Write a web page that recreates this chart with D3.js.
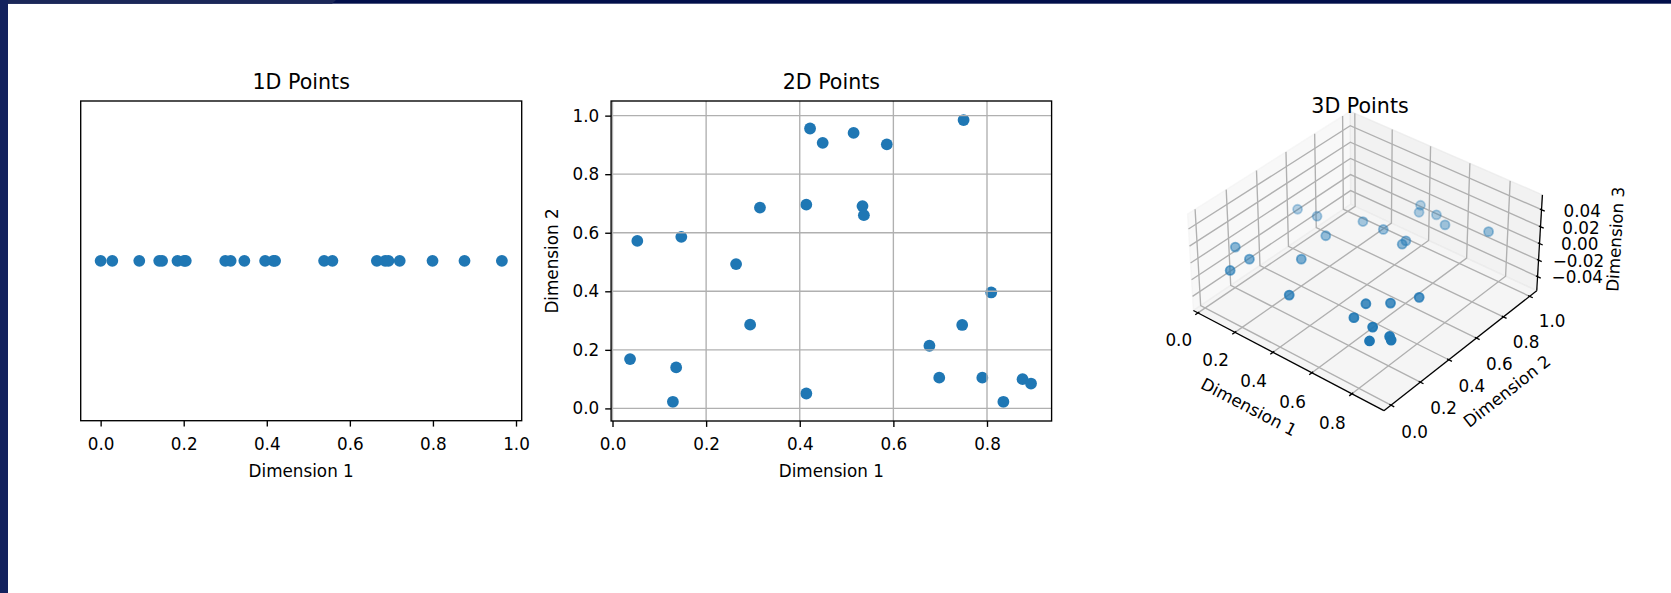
<!DOCTYPE html>
<html>
<head>
<meta charset="utf-8">
<script src="https://cdn.jsdelivr.net/npm/d3@7"></script>
<style>
  html, body { margin: 0; padding: 0; background: #fff; }
  body { width: 1671px; height: 593px; overflow: hidden; }
  svg text { font-family: 'DejaVu Sans', sans-serif; fill: #000; }
</style>
</head>
<body>
<svg class="canvas" width="1671" height="593"></svg>
<script>
'use strict'

// ---- data ----
const points1d = [0.0, 0.028, 0.093, 0.141, 0.148, 0.185, 0.201, 0.205, 0.3, 0.313, 0.346,
  0.396, 0.416, 0.42, 0.538, 0.558, 0.665, 0.685, 0.693, 0.72, 0.799, 0.876, 0.966]

const dim1 = [0.053, 0.0375, 0.136, 0.129, 0.147, 0.264, 0.294, 0.315, 0.414, 0.414, 0.422,
  0.449, 0.515, 0.534, 0.537, 0.586, 0.75, 0.809, 0.747, 0.677, 0.698, 0.79, 0.835, 0.876, 0.894]
const dim2 = [0.572, 0.1685, 0.14, 0.0226, 0.586, 0.493, 0.286, 0.686, 0.696, 0.051, 0.956,
  0.907, 0.941, 0.691, 0.66, 0.902, 0.985, 0.396, 0.285, 0.214, 0.105, 0.105, 0.0226, 0.1, 0.085]
const dim3 = dim1.map(() => 0)

const ticks1d = [0, 0.2, 0.4, 0.6, 0.8, 1.0]
const ticks2dX = [0, 0.2, 0.4, 0.6, 0.8]
const ticks2dY = [0, 0.2, 0.4, 0.6, 0.8, 1.0]
const ticks3dX = [0, 0.2, 0.4, 0.6, 0.8]
const ticks3dY = [0, 0.2, 0.4, 0.6, 0.8, 1.0]
const ticks3dZ = [-0.04, -0.02, 0, 0.02, 0.04]

const titles = ['1D Points', '2D Points', '3D Points']
const labels = ['Dimension 1', 'Dimension 2', 'Dimension 3']

// ---- layout / style ----
const W = 1671, H = 593
const BLUE = '#1f77b4'
const FS = 16.8, TITLE_FS = 20.6
const LW = 1.36, TICK = 5.9

const svg = d3.select('.canvas')

// window frame around the figure
svg.append('rect').attr('width', W).attr('height', 3.7).attr('fill', '#020f4a')
svg.append('path').attr('d', 'M0,0H336L332,3.7H0Z').attr('fill', '#1b2758')
svg.append('rect').attr('width', 8).attr('height', H).attr('fill', '#13225e')

const fmt1 = d3.format('.1f'), fmt2 = d3.format('.2f')

// ---- 2D style panels ----
function panel({ left, right, top, bottom, xDomain, yDomain, xTicks, yTicks, grid, title, xLabel, yLabel, xs, ys }) {
  const x = d3.scaleLinear().domain(xDomain).range([left, right])
  const y = d3.scaleLinear().domain(yDomain).range([bottom, top])
  const g = svg.append('g')

  // points
  g.append('g')
    .selectAll('circle')
    .data(xs)
    .join('circle')
    .attr('cx', d => x(d))
    .attr('cy', (d, i) => y(ys[i]))
    .attr('r', 5.9)
    .attr('fill', BLUE)

  // grid (matplotlib draws it above the markers)
  if (grid) {
    g.append('g').selectAll('line.gx').data(xTicks).join('line')
      .attr('x1', d => x(d)).attr('x2', d => x(d)).attr('y1', top).attr('y2', bottom)
      .attr('stroke', '#b0b0b0').attr('stroke-width', LW)
    g.append('g').selectAll('line.gy').data(yTicks).join('line')
      .attr('y1', d => y(d)).attr('y2', d => y(d)).attr('x1', left).attr('x2', right)
      .attr('stroke', '#b0b0b0').attr('stroke-width', LW)
  }

  // axes
  const xAxis = g.append('g')
    .attr('transform', `translate(0, ${bottom})`)
    .call(d3.axisBottom(x).tickValues(xTicks).tickFormat(fmt1).tickSizeInner(TICK).tickSizeOuter(0).tickPadding(11.2))
  const axes = [xAxis]
  if (yTicks.length) {
    axes.push(g.append('g')
      .attr('transform', `translate(${left}, 0)`)
      .call(d3.axisLeft(y).tickValues(yTicks).tickFormat(fmt1).tickSizeInner(TICK).tickSizeOuter(0).tickPadding(5.9)))
  }
  axes.forEach(a => {
    a.select('.domain').remove()
    a.selectAll('line').attr('stroke', '#000').attr('stroke-width', LW)
    a.selectAll('text').attr('font-size', FS).attr('font-family', null).attr('fill', '#000')
  })

  // spines
  g.append('rect')
    .attr('x', left).attr('y', top).attr('width', right - left).attr('height', bottom - top)
    .attr('fill', 'none').attr('stroke', '#000').attr('stroke-width', LW)

  g.append('text').attr('x', (left + right) / 2).attr('y', top - 12.5)
    .attr('text-anchor', 'middle').attr('font-size', TITLE_FS).text(title)
  g.append('text').attr('x', (left + right) / 2).attr('y', bottom + 56.3)
    .attr('text-anchor', 'middle').attr('font-size', FS).text(xLabel)
  if (yLabel) {
    g.append('text')
      .attr('transform', `translate(${left - 53}, ${(top + bottom) / 2}) rotate(-90)`)
      .attr('text-anchor', 'middle').attr('font-size', FS).text(yLabel)
  }
}

panel({
  left: 80.7, right: 521.7, top: 101, bottom: 420.7,
  xDomain: [-0.048, 1.0137], yDomain: [-0.055, 0.055],
  xTicks: ticks1d, yTicks: [], grid: false,
  title: titles[0], xLabel: labels[0],
  xs: points1d, ys: points1d.map(() => 0)
})

panel({
  left: 611.1, right: 1051.6, top: 101, bottom: 421,
  xDomain: [-0.003, 0.938], yDomain: [-0.043, 1.05],
  xTicks: ticks2dX, yTicks: ticks2dY, grid: true,
  title: titles[1], xLabel: labels[0], yLabel: labels[1],
  xs: dim1, ys: dim2
})

// ---- 3D panel (matplotlib-like perspective projection) ----
const margin = ([lo, hi]) => {
  if (hi - lo < 1e-12) { lo -= 0.05; hi += 0.05 }
  const m = (hi - lo) * 0.05
  return [lo - m, hi + m]
}
const lims = [margin(d3.extent(dim1)), margin(d3.extent(dim2)), margin(d3.extent(dim3))]
const deltas = lims.map(([a, b]) => (b - a) / 12)
const mins = lims.map(([a], i) => a - deltas[i] / 4)
const maxs = lims.map(([, b], i) => b + deltas[i] / 4)
const centers = lims.map(([a, b]) => (a + b) / 2)
const DIST = 10

// screen calibration of the box corners (0 = min side, 1 = max side)
const calib3d = [
  { corner: [0, 0, 0], at: [1198.5, 310.7] },
  { corner: [1, 0, 0], at: [1385.0, 410.0] },
  { corner: [1, 1, 0], at: [1531.5, 290.5] },
  { corner: [1, 1, 1], at: [1547.3, 196.5] },
  { corner: [0, 0, 1], at: [1181.7, 213.0] }
]

function buildCamera(elev, azim, bz) {
  const box = [4 / 3.5, 4 / 3.5, bz]
  const sc = lims.map((l, i) => d3.scaleLinear().domain(l).range([0, box[i]]))
  const e = elev * Math.PI / 180, a = azim * Math.PI / 180
  const w = [Math.cos(e) * Math.cos(a), Math.cos(e) * Math.sin(a), Math.sin(e)]
  const eye = box.map((b, i) => b / 2 + DIST * w[i])
  const n = Math.hypot(w[0], w[1])
  const u = [-w[1] / n, w[0] / n, 0]
  const v = [w[1] * u[2] - w[2] * u[1], w[2] * u[0] - w[0] * u[2], w[0] * u[1] - w[1] * u[0]]
  return p => {
    const d = p.map((c, i) => sc[i](c) - eye[i])
    const zv = w[0] * d[0] + w[1] * d[1] + w[2] * d[2]
    const xv = u[0] * d[0] + u[1] * d[1] + u[2] * d[2]
    const yv = v[0] * d[0] + v[1] * d[1] + v[2] * d[2]
    return [xv / -zv, yv / -zv, DIST / zv]
  }
}

function fitCamera(elev, azim, bz) {
  const cam = buildCamera(elev, azim, bz)
  const pr = calib3d.map(c => cam(c.corner.map((k, i) => (k ? maxs[i] : mins[i]))))
  const mu = d3.mean(pr, p => p[0]), mv = d3.mean(pr, p => -p[1])
  const mX = d3.mean(calib3d, c => c.at[0]), mY = d3.mean(calib3d, c => c.at[1])
  let num = 0, den = 0
  pr.forEach((p, i) => {
    const du = p[0] - mu, dv = -p[1] - mv
    num += du * (calib3d[i].at[0] - mX) + dv * (calib3d[i].at[1] - mY)
    den += du * du + dv * dv
  })
  const s = num / den, ox = mX - s * mu, oy = mY - s * mv
  let err = 0
  pr.forEach((p, i) => {
    err += (ox + s * p[0] - calib3d[i].at[0]) ** 2 + (oy - s * p[1] - calib3d[i].at[1]) ** 2
  })
  return { err, s, ox, oy, cam }
}

let best = { err: Infinity }, bestArgs = [30, -60, 0.857]
function search(eR, aR, bR, eS, aS, bS) {
  for (let e = eR[0]; e <= eR[1]; e += eS)
    for (let a = aR[0]; a <= aR[1]; a += aS)
      for (let b = bR[0]; b <= bR[1]; b += bS) {
        const f = fitCamera(e, a, b)
        if (f.err < best.err) { best = f; bestArgs = [e, a, b] }
      }
}
search([15, 75], [-85, -20], [0.3, 1.3], 1.5, 1.5, 0.05)
let [e0, a0, b0] = bestArgs
search([e0 - 1.5, e0 + 1.5], [a0 - 1.5, a0 + 1.5], [b0 - 0.05, b0 + 0.05], 0.25, 0.25, 0.01)
;[e0, a0, b0] = bestArgs
search([e0 - 0.25, e0 + 0.25], [a0 - 0.25, a0 + 0.25], [b0 - 0.01, b0 + 0.01], 0.05, 0.05, 0.002)

const P = p => {
  const [X, Y, Z] = best.cam(p)
  return [best.ox + best.s * X, best.oy - best.s * Y, Z]
}

const g3 = svg.append('g')
const line = d3.line()
const path3 = pts => line(pts.map(p => P(p).slice(0, 2)))

// panes
const panes = [
  { pts: [[mins[0], mins[1], mins[2]], [mins[0], maxs[1], mins[2]], [mins[0], maxs[1], maxs[2]], [mins[0], mins[1], maxs[2]]], c: 'rgba(242,242,242,0.5)' },
  { pts: [[mins[0], maxs[1], mins[2]], [maxs[0], maxs[1], mins[2]], [maxs[0], maxs[1], maxs[2]], [mins[0], maxs[1], maxs[2]]], c: 'rgba(230,230,230,0.5)' },
  { pts: [[mins[0], mins[1], mins[2]], [maxs[0], mins[1], mins[2]], [maxs[0], maxs[1], mins[2]], [mins[0], maxs[1], mins[2]]], c: 'rgba(236,236,236,0.5)' }
]
g3.append('g').selectAll('path').data(panes).join('path')
  .attr('d', d => path3(d.pts) + 'Z')
  .attr('fill', d => d.c).attr('stroke', d => d.c).attr('stroke-width', LW)

// grid lines
const gridLines = [
  ...ticks3dX.map(t => [[t, mins[1], mins[2]], [t, maxs[1], mins[2]], [t, maxs[1], maxs[2]]]),
  ...ticks3dY.map(t => [[mins[0], t, maxs[2]], [mins[0], t, mins[2]], [maxs[0], t, mins[2]]]),
  ...ticks3dZ.map(t => [[maxs[0], maxs[1], t], [mins[0], maxs[1], t], [mins[0], mins[1], t]])
]
g3.append('g').selectAll('path').data(gridLines).join('path')
  .attr('d', path3).attr('fill', 'none').attr('stroke', '#b0b0b0').attr('stroke-width', LW)

// axes: edge, tick direction, tick sign
const DPP = 0.127
const axes3 = [
  { index: 0, ticks: ticks3dX, f: fmt1, e1: [mins[0], mins[1], mins[2]], e2: [maxs[0], mins[1], mins[2]], tickdir: 1, sign: 1 },
  { index: 1, ticks: ticks3dY, f: fmt1, e1: [maxs[0], maxs[1], mins[2]], e2: [maxs[0], mins[1], mins[2]], tickdir: 0, sign: -1 },
  { index: 2, ticks: ticks3dZ, f: fmt2, e1: [maxs[0], maxs[1], mins[2]], e2: [maxs[0], maxs[1], maxs[2]], tickdir: 0, sign: -1 }
]
const moveFromCenter = (p, amount, index) =>
  p.map((c, i) => (i === index ? c : c < centers[i] ? c - amount[i] : c + amount[i]))

axes3.forEach((ax, k) => {
  const ag = g3.append('g')
  ag.append('path').attr('d', path3([ax.e1, ax.e2]))
    .attr('stroke', '#000').attr('stroke-width', 1.27).attr('fill', 'none')
  const td = deltas[ax.tickdir]
  const tickLd = deltas.map(d => d * (3.5 + 8) * DPP)
  ax.ticks.forEach(t => {
    const p = ax.e1.slice()
    p[ax.index] = t
    const a = p.slice(), b = p.slice()
    a[ax.tickdir] = ax.e1[ax.tickdir] + 0.1 * ax.sign * td
    b[ax.tickdir] = ax.e1[ax.tickdir] - 0.2 * ax.sign * td
    ag.append('path').attr('d', path3([a, b])).attr('stroke', '#000').attr('stroke-width', LW)
    const [lx, ly] = P(moveFromCenter(p, tickLd, ax.index))
    ag.append('text').attr('x', lx).attr('y', ly).attr('dy', '0.54em')
      .attr('text-anchor', 'middle').attr('font-size', FS).text(ax.f(t))
  })
  // axis label
  const mid = ax.e1.map((c, i) => (c + ax.e2[i]) / 2)
  const [mx, my] = P(moveFromCenter(mid, deltas.map(d => d * 22 * DPP), ax.index))
  const [x1, y1] = P(ax.e1), [x2, y2] = P(ax.e2)
  let ang = Math.atan2(-(y2 - y1), x2 - x1) * 180 / Math.PI
  ang = ((ang + 180) % 180 + 180) % 180
  if (ang > 90) ang -= 180
  ag.append('text')
    .attr('transform', `translate(${mx}, ${my}) rotate(${-ang})`)
    .attr('dy', '0.3em').attr('text-anchor', 'middle').attr('font-size', FS).text(labels[k])
})

// points with depth shading
const pts3 = dim1.map((x, i) => {
  const [sx, sy, depth] = P([x, dim2[i], dim3[i]])
  return { sx, sy, depth }
})
const depthNorm = d3.scaleLinear().domain(d3.extent(pts3, d => d.depth)).range([0, 1])
pts3.sort((a, b) => b.depth - a.depth)
g3.append('g').selectAll('circle').data(pts3).join('circle')
  .attr('cx', d => d.sx).attr('cy', d => d.sy).attr('r', 4.5)
  .attr('fill', BLUE).attr('stroke', BLUE).attr('stroke-width', 1.8)
  .attr('fill-opacity', d => 1 - depthNorm(d.depth) * 0.7)
  .attr('stroke-opacity', d => 1 - depthNorm(d.depth) * 0.7)

g3.append('text').attr('x', 1360).attr('y', 113)
  .attr('text-anchor', 'middle').attr('font-size', TITLE_FS).text(titles[2])
</script>
</body>
</html>
